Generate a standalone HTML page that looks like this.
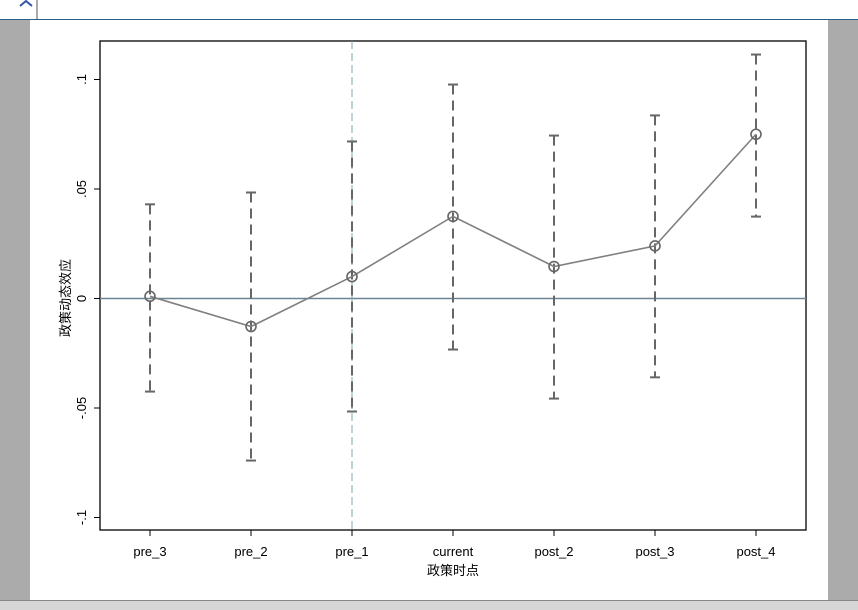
<!DOCTYPE html>
<html><head><meta charset="utf-8"><style>
html,body{margin:0;padding:0;width:858px;height:610px;overflow:hidden;background:#ababab;font-family:"Liberation Sans","Noto Sans CJK SC",sans-serif;}
</style></head><body>
<svg width="858" height="610" xmlns="http://www.w3.org/2000/svg">
<rect x="0" y="0" width="858" height="19" fill="#fff"/>
<line x1="0" y1="19.5" x2="858" y2="19.5" stroke="#2a5f86" stroke-width="1"/>
<line x1="37" y1="0" x2="37" y2="19" stroke="#aaa" stroke-width="2"/>
<path d="M20 6 L26 1 L32 6" stroke="#3355aa" stroke-width="2" fill="none"/>
<rect x="30" y="20" width="798" height="580" fill="#fff"/>
<rect x="0" y="600" width="858" height="10" fill="#d6d6d6"/>
<line x1="0" y1="600.5" x2="858" y2="600.5" stroke="#888"/>
<g id="plot"></g>
</svg>
<script>
const categories=["pre_3","pre_2","pre_1","current","post_2","post_3","post_4"];
const estimates=[0.001,-0.0128,0.010,0.0375,0.0146,0.024,0.075];
const ciLow=[-0.0425,-0.074,-0.0516,-0.0233,-0.0457,-0.036,0.0374];
const ciHigh=[0.043,0.0484,0.0717,0.0977,0.0744,0.0836,0.1114];
const yTicks=[-0.1,-0.05,0,0.05,0.1];
const yTickLabels=["-.1","-.05","0",".05",".1"];
const NS="http://www.w3.org/2000/svg";
const g=document.getElementById('plot');
const L=100,R=806,T=41,B=530;
const yS=v=>298.5-v*2190;
const xS=i=>150+i*101;
function mk(t,a,txt){const e=document.createElementNS(NS,t);for(const k in a)e.setAttribute(k,a[k]);if(txt!==undefined)e.textContent=txt;g.appendChild(e);return e;}
let e;
e=mk('rect',{x:L,y:T,width:R-L,height:B-T,fill:'#fff',stroke:'#000','stroke-width':1.3});


yTicks.forEach((v,i)=>{const y=yS(v);
 mk('line',{x1:L-6,y1:y,x2:L,y2:y,stroke:'#000'});
 e=mk('text',{x:0,y:0,transform:`translate(${L-14},${y}) rotate(-90)`,'text-anchor':'middle','font-size':13,fill:'#000'},yTickLabels[i]);
 
 
});
categories.forEach((c,i)=>{const x=xS(i);
 mk('line',{x1:x,y1:B,x2:x,y2:B+6,stroke:'#000'});
 e=mk('text',{x:x,y:B+26,'text-anchor':'middle','font-size':13,fill:'#000'},c);
 
 
});
e=mk('text',{x:453,y:575,'text-anchor':'middle','font-size':13,fill:'#000'},'政策时点');


e=mk('text',{x:0,y:0,transform:`translate(70,298) rotate(-90)`,'text-anchor':'middle','font-size':13,fill:'#000'},'政策动态效应');


e=mk('line',{x1:L,y1:yS(0),x2:R,y2:yS(0),stroke:'#6a8494','stroke-width':1.5});


e=mk('line',{x1:xS(2),y1:T,x2:xS(2),y2:B,stroke:'#7fa8a8','stroke-width':1,'stroke-dasharray':'8,4'});


categories.forEach((c,i)=>{const x=xS(i);
 e=mk('line',{x1:x,y1:yS(ciHigh[i]),x2:x,y2:yS(ciLow[i]),stroke:'#666','stroke-width':2,'stroke-dasharray':'10,6'});
 
 
 mk('line',{x1:x-5,y1:yS(ciHigh[i]),x2:x+5,y2:yS(ciHigh[i]),stroke:'#666','stroke-width':2});
 mk('line',{x1:x-5,y1:yS(ciLow[i]),x2:x+5,y2:yS(ciLow[i]),stroke:'#666','stroke-width':2});
});
e=mk('polyline',{points:estimates.map((v,i)=>xS(i)+','+yS(v)).join(' '),fill:'none',stroke:'#808080','stroke-width':1.6});


estimates.forEach((v,i)=>{
 e=mk('circle',{cx:xS(i),cy:yS(v),r:5,fill:'none',stroke:'#666','stroke-width':1.6});
 
 
});
</script>
</body></html>
